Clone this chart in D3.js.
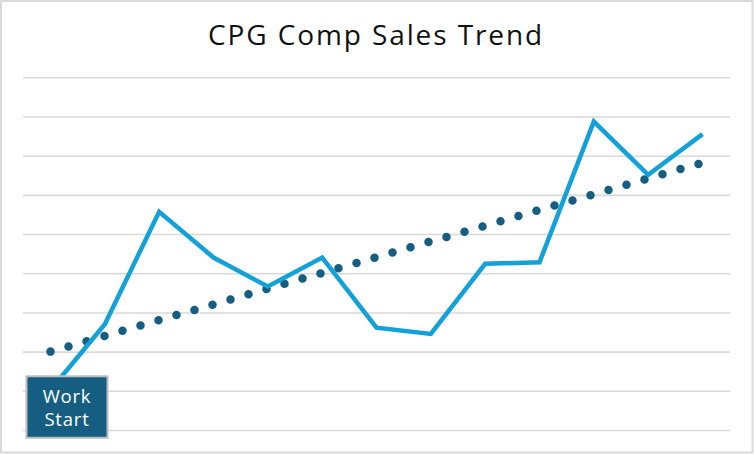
<!DOCTYPE html>
<html>
<head>
<meta charset="utf-8">
<script src="https://cdn.jsdelivr.net/npm/d3@7"></script>
<style>
  html, body { margin: 0; padding: 0; background: #fff; }
  svg { display: block; }
</style>
</head>
<body>
<div id="chart"></div>
<script>
// Chart data (gridline step = 1)
const periods = [1, 2, 3, 4, 5, 6, 7, 8, 9, 10, 11, 12, 13];
const compSales = [1.02, 2.70, 5.57, 4.40, 3.66, 4.40, 2.61, 2.45, 4.24, 4.28, 7.87, 6.51, 7.55];
const trendEnds = [2.00, 6.82]; // trendline value at first and last period
const gridTicks = [0, 1, 2, 3, 4, 5, 6, 7, 8, 9];
const titleText = "CPG Comp Sales Trend";
const markerLines = ["Work", "Start"];

const width = 754, height = 454;

const svg = d3.select("#chart").append("svg")
    .attr("width", width)
    .attr("height", height);

// outer frame
svg.append("rect")
    .attr("x", 1).attr("y", 1)
    .attr("width", width - 2.5).attr("height", height - 2.5)
    .style("fill", "#fff")
    .style("stroke", "#d9d9d9")
    .style("stroke-width", 2);

// Scales
const x = d3.scalePoint().domain(periods).range([50.5, 702.5]);
const y = d3.scaleLinear().domain([0, 9]).range([430, 77.3]);

// Gridlines via axis
const grid = svg.append("g")
    .attr("class", "grid")
    .attr("transform", "translate(23,0)")
    .call(d3.axisLeft(y).tickValues(gridTicks).tickSize(-707).tickFormat(""));
grid.select(".domain").remove();
grid.selectAll(".tick line")
    .style("stroke", "#d9d9d9")
    .style("stroke-width", 1.6);

// Title
svg.append("text")
    .attr("x", 376)
    .attr("y", 45)
    .attr("text-anchor", "middle")
    .style("font-family", "'Open Sans', sans-serif")
    .style("font-size", "28px")
    .style("letter-spacing", "1.9px")
    .style("fill", "#111")
    .text(titleText);

// Trendline (dotted)
const trendData = [
    {p: periods[0], v: trendEnds[0]},
    {p: periods[periods.length - 1], v: trendEnds[1]}
];
const trendLine = d3.line().x(d => x(d.p)).y(d => y(d.v));
svg.append("path")
    .datum(trendData)
    .attr("d", trendLine)
    .style("fill", "none")
    .style("stroke", "#155e82")
    .style("stroke-width", 8.5)
    .style("stroke-linecap", "round")
    .style("stroke-dasharray", "0 18.74");

// Sales line
const salesLine = d3.line()
    .x((d, i) => x(periods[i]))
    .y(d => y(d));
svg.append("path")
    .datum(compSales)
    .attr("d", salesLine)
    .style("fill", "none")
    .style("stroke", "#12a1d8")
    .style("stroke-width", 4.5)
    .style("stroke-linejoin", "miter");

// Work Start marker box
const box = svg.append("g").attr("class", "marker");
box.append("rect")
    .attr("x", 26.5).attr("y", 376.3)
    .attr("width", 81).attr("height", 61.5)
    .style("fill", "#155e82")
    .style("stroke", "#bdbdbd")
    .style("stroke-width", 2);
box.selectAll("text")
    .data(markerLines)
    .enter().append("text")
    .attr("x", 67)
    .attr("y", (d, i) => 403 + i * 23)
    .attr("text-anchor", "middle")
    .style("font-family", "'Open Sans', sans-serif")
    .style("font-size", "18.5px")
    .style("letter-spacing", "0.8px")
    .style("fill", "#fff")
    .text(d => d);
</script>
</body>
</html>
